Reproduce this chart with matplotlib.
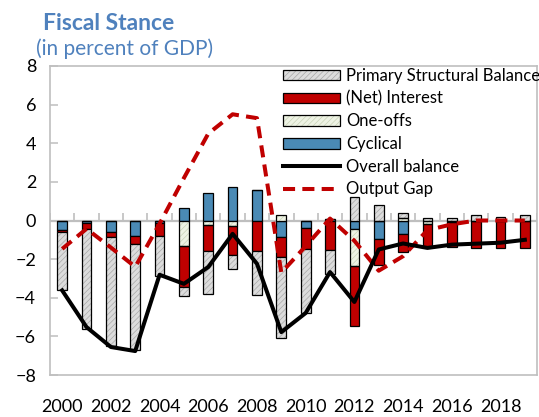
import numpy as np
import matplotlib.pyplot as plt
from matplotlib.patches import Patch
from matplotlib.lines import Line2D

plt.rcParams['font.family'] = ['Lato', 'DejaVu Sans']
plt.rcParams['hatch.linewidth'] = 0.5

# data (percent of GDP)
years = np.arange(2000, 2020)
cyclical = np.array([-0.47, -0.12, -0.57, -0.81, -0.12, 0.64, 1.41, 1.76, 1.60, -0.88,
                     -0.38, 0.08, -0.45, -0.98, -0.69, -0.05, 0.0, 0.0, 0.0, 0.0])
oneoffs = np.array([0, 0, 0, 0, 0, -1.33, -0.22, -0.30, 0, 0.28,
                    0, 0, -1.90, 0, 0.14, -0.12, -0.08, 0, 0, 0])
interest = np.array([-0.12, -0.31, -0.29, -0.43, -0.70, -2.09, -1.38, -1.50, -1.59, -1.03,
                     -1.12, -1.52, -3.12, -1.31, -0.95, -1.20, -1.30, -1.41, -1.41, -1.41])
primary = np.array([-3.03, -5.20, -5.64, -5.48, -2.03, -0.50, -2.20, -0.72, -2.29, -4.17,
                    -3.28, -1.24, 1.24, 0.81, 0.26, 0.12, 0.15, 0.28, 0.19, 0.28])
overall = np.array([-3.62, -5.52, -6.55, -6.76, -2.81, -3.28, -2.41, -0.69, -2.24, -5.78,
                    -4.79, -2.67, -4.22, -1.50, -1.19, -1.42, -1.25, -1.20, -1.15, -1.00])
output_gap = np.array([-1.47, -0.43, -1.40, -2.40, -0.17, 2.20, 4.50, 5.50, 5.30, -2.70,
                       -1.33, 0.10, -1.05, -2.60, -1.85, -0.50, -0.20, 0.0, 0.0, 0.0])

c_gray = '#dcdcdc'
c_red = '#c00000'
c_one = '#eef3e4'
c_blue = '#4a8ab5'
c_title = '#4f81bd'
c_frame = '#bfbfbf'

fig = plt.figure(figsize=(5.39, 4.17), dpi=100)
ax = fig.add_axes([50/539, 1 - 375/417, 487/539, 309/417])

x = np.arange(len(years))
w = 0.4

# stack outward from zero: cyclical, one-offs, interest, primary
series = [(cyclical, c_blue, None, None),
          (oneoffs, c_one, '//////', '#c8d3b8'),
          (interest, c_red, None, None),
          (primary, c_gray, '//////', '#a8a8a8')]
pos = np.zeros(len(x))
neg = np.zeros(len(x))
for vals, col, hatch, hcol in series:
    bottom = np.where(vals >= 0, pos, neg)
    if hatch:
        ax.bar(x, vals, w, bottom=bottom, color=col, hatch=hatch, edgecolor=hcol,
               linewidth=0, zorder=2)
        ax.bar(x, vals, w, bottom=bottom, fill=False, edgecolor='black', linewidth=0.9, zorder=3)
    else:
        ax.bar(x, vals, w, bottom=bottom, color=col, edgecolor='black', linewidth=0.9, zorder=2)
    pos += np.where(vals >= 0, vals, 0)
    neg += np.where(vals < 0, vals, 0)

ax.plot(x, output_gap, color=c_red, lw=2.9, linestyle=(0, (3, 1.8)), zorder=4)
ax.plot(x, overall, color='black', lw=2.9, zorder=5)

# zero line with category ticks
ax.axhline(0, color=c_frame, lw=1.6, zorder=1)
ax.vlines(np.arange(-0.5, 20, 1), 0, 0.37, color=c_frame, lw=1.2, zorder=1)

ax.set_xlim(-0.5, 19.5)
ax.set_ylim(-8, 8)
ax.set_yticks(np.arange(-8, 9, 2))
ax.set_xticks(x[::2])
ax.set_xticklabels([str(y) for y in years[::2]])
ax.tick_params(axis='x', length=0, pad=17, labelsize=13)
ax.tick_params(axis='y', direction='in', length=6, width=1.1, color=c_frame, pad=10, labelsize=13)
for s in ax.spines.values():
    s.set_color(c_frame)
    s.set_linewidth(1.2)

handles = [
    (Patch(facecolor=c_gray, hatch='//////', edgecolor='#a8a8a8', linewidth=0),
     Patch(fill=False, edgecolor='black', linewidth=0.9)),
    Patch(facecolor=c_red, edgecolor='black', linewidth=0.9),
    (Patch(facecolor=c_one, hatch='//////', edgecolor='#c8d3b8', linewidth=0),
     Patch(fill=False, edgecolor='black', linewidth=0.9)),
    Patch(facecolor=c_blue, edgecolor='black', linewidth=0.9),
    Line2D([], [], color='black', lw=2.9),
    Line2D([], [], color=c_red, lw=2.9, linestyle=(0, (3, 1.8))),
]
labels = ['Primary Structural Balance', '(Net) Interest', 'One-offs', 'Cyclical',
          'Overall balance', 'Output Gap']
fig.legend(handles, labels, loc='upper left', bbox_to_anchor=(283/539, 1 - 68/417),
           frameon=False, fontsize=12, handlelength=3.4, handleheight=0.6,
           handletextpad=0.4, labelspacing=0.4, borderpad=0, borderaxespad=0)

fig.text(43/539, 1 - 23/417, 'Fiscal Stance', color=c_title, fontsize=16.5,
         fontweight='bold', va='center')
fig.text(36/539, 1 - 49/417, '(in percent of GDP)', color=c_title, fontsize=15,
         va='center')

fig.savefig('out.png', dpi=100)
